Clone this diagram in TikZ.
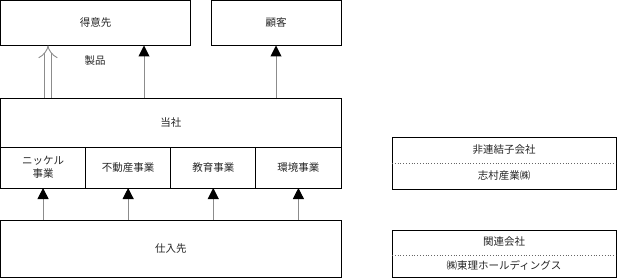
\documentclass[tikz,border=0pt]{standalone}
\usepackage{fontspec}
\setmainfont{Noto Sans CJK JP}
\usetikzlibrary{arrows.meta,calc}
\begin{document}
\begin{tikzpicture}[x=1pt,y=-1pt,
  box/.style={draw=black,line width=0.9pt,inner sep=0pt,outer sep=0pt,anchor=north west,font=\fontsize{10.5}{13}\selectfont,text=black!85,align=center},
  arr/.style={draw=black!45,line width=1pt,-{Triangle[length=11pt,width=11pt,color=black]}},
  dbl/.style={draw=black!45,double=white,double distance=6pt,line width=0.9pt,-{Implies[length=6pt]}},
  lbl/.style={font=\fontsize{10.5}{13}\selectfont,text=black!85,inner sep=0pt},
  sep/.style={draw=black!60,line width=0.8pt,dotted}]
\useasboundingbox (0,0) rectangle (618,278);
\node[box,minimum width=190pt,minimum height=45pt] (tokui) at (0.5,0.5) {得意先};
\node[box,minimum width=130pt,minimum height=45pt] (kokyaku) at (211,0.5) {顧客};
\node[box,minimum width=340.5pt,minimum height=49pt] (tosha) at (0.5,98) {当社};
\node[box,minimum width=85.1pt,minimum height=41pt] (s1) at (0.5,147) {ニッケル\\事業};
\node[box,minimum width=85.1pt,minimum height=41pt] (s2) at (85.6,147) {不動産事業};
\node[box,minimum width=85.1pt,minimum height=41pt] (s3) at (170.7,147) {教育事業};
\node[box,minimum width=85.2pt,minimum height=41pt] (s4) at (255.8,147) {環境事業};
\node[box,minimum width=340.5pt,minimum height=57pt] (shiire) at (0.5,220) {仕入先};
\node[lbl] (seihin) at (95,61) {製品};
% right boxes
\node[box,minimum width=224pt,minimum height=52pt] (hiren) at (392,137) {};
\node[lbl] (hirenT) at ($(hiren.north)+(0,13)$) {非連結子会社};
\node[lbl] (shimura) at ($(hiren.south)+(0,-13)$) {志村産業㈱};
\draw[sep] (hiren.west) -- (hiren.east);
\node[box,minimum width=224pt,minimum height=47pt] (kanren) at (392,230) {};
\node[lbl] (kanrenT) at ($(kanren.north)+(0,12)$) {関連会社};
\node[lbl] (touri) at ($(kanren.south)+(0,-11.5)$) {㈱東理ホールディングス};
\draw[sep] ($(kanren.north west)+(0,25)$) -- ($(kanren.north east)+(0,25)$);
% arrows
\foreach \s in {s1,s2,s3,s4} \draw[arr] (\s.south |- shiire.north) -- (\s.south);
\draw[arr] (kokyaku.south |- tosha.north) -- (kokyaku.south);
\draw[arr] ($(tosha.north west)+(143.5,0)$) -- ($(tokui.south west)+(143.5,0)$);
\draw[dbl] ($(tosha.north west)+(47.5,0)$) -- ($(tokui.south west)+(47.5,0)$);
\end{tikzpicture}
\end{document}
